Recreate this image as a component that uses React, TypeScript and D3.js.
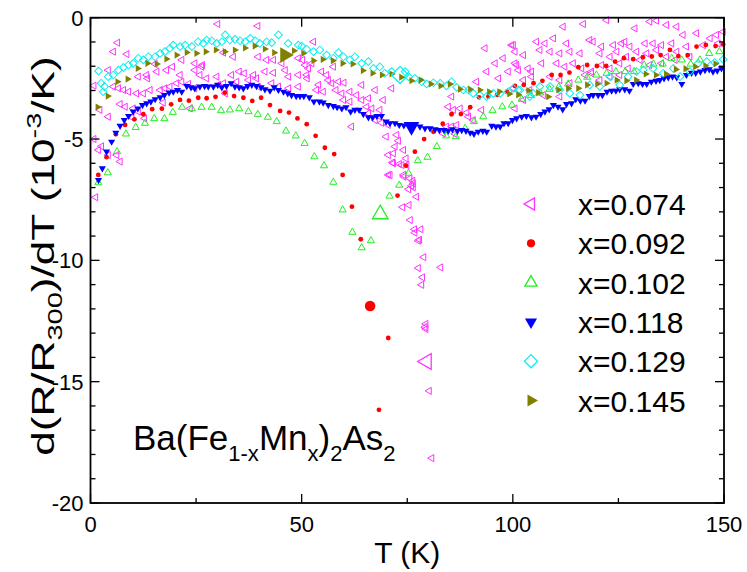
import React from 'react';
import * as d3 from 'd3';

const W = 747;
const H = 572;
const M = { left: 90.5, right: 724, top: 17.7, bottom: 503 };

const xMajorTicks = [0, 50, 100, 150];
const xMinorTicks = [25, 75, 125];
const yMajorTicks = [0, -5, -10, -15, -20];
const yMinorTicks = d3.range(-19, 0).filter((v) => v % 5 !== 0);
const legendLabels = ['x=0.074', 'x=0.092', 'x=0.102', 'x=0.118', 'x=0.129', 'x=0.145'];

// x = 0.074 (magenta, open left triangles)
const s074: [number, number][] = [
  [0.8, -2.8], [0.8, -5.0], [1.2, -7.4], [1.85, -5.45], [7.0, -5.93],
  [30.1, -0.26], [39.6, -0.34], [6.4, -1.03], [5.4, -1.4], [8.6, -1.5], [15.3, -1.91], [21.6, -1.74],
  [24.7, -1.88], [26.5, -1.95], [31.5, -1.44], [33.8, -1.61], [39.7, -1.61], [41.7, -1.74], [43.3, -1.74],
  [45.3, -1.88], [49.2, -1.67], [4.2, -2.16], [11.3, -2.43], [13.3, -2.36], [13.5, -2.5], [15.7, -2.22],
  [18.0, -2.16], [19.4, -2.02], [21.2, -2.36], [24.7, -2.16], [25.9, -2.36], [26.3, -2.02], [27.5, -2.5],
  [29.9, -2.43], [33.4, -2.36], [35.2, -2.22], [36.4, -2.29], [38.6, -2.36], [39.3, -2.5], [41.3, -2.22],
  [43.3, -2.27], [46.1, -2.16], [46.9, -2.43], [49.2, -2.36], [5.4, -2.84], [6.6, -2.91], [7.8, -2.98],
  [9.0, -3.05], [10.9, -3.12], [12.5, -3.12], [14.1, -2.98], [16.5, -2.98], [17.6, -2.91], [18.8, -2.84],
  [20.4, -2.7], [21.6, -2.64], [23.2, -2.73], [24.7, -2.91], [30.3, -2.77], [31.5, -2.7], [31.9, -3.12],
  [34.6, -2.64], [37.4, -2.57], [39.7, -2.84], [42.9, -2.7], [44.5, -2.84], [46.9, -2.91], [49.2, -2.84],
  [2.2, -3.8], [4.2, -4.08], [8.2, -3.67], [7.0, -3.56], [10.1, -3.74], [11.3, -3.87], [17.2, -3.5],
  [23.6, -3.74], [9.8, -4.11], [12.8, -4.15], [2.6, -5.3], [4.2, -5.66], [6.2, -5.66],
  [52.8, -0.99], [50.2, -1.74], [50.8, -1.95], [51.6, -2.09], [52.4, -1.88], [51.2, -2.36], [51.3, -2.5],
  [54.7, -2.22], [55.9, -2.36], [56.3, -2.57], [57.1, -2.7], [54.0, -2.77], [53.5, -2.98], [55.1, -3.05],
  [57.5, -2.02], [58.7, -2.64], [60.0, -2.68], [58.1, -2.98], [59.5, -3.12], [61.4, -3.05], [63.0, -3.19],
  [59.9, -3.39], [61.4, -3.46], [64.2, -3.39], [65.8, -3.32], [67.4, -2.98], [69.3, -3.39], [71.3, -2.91],
  [64.2, -2.77], [65.4, -3.67], [66.6, -3.74], [68.5, -3.8], [65.8, -3.94], [68.5, -4.08], [67.4, -4.22],
  [68.9, -4.33], [70.5, -4.42], [61.8, -4.49], [70.0, -4.9], [72.5, -4.83], [72.9, -5.07], [72.1, -5.31],
  [74.1, -5.45], [70.5, -5.66], [71.7, -6.0], [73.7, -6.07], [70.9, -6.48], [74.1, -6.48], [75.6, -6.62],
  [76.4, -6.83], [84.7, -3.67], [85.9, -3.8], [87.5, -3.74], [89.1, -3.91], [92.6, -3.8], [89.5, -4.08],
  [90.6, -4.22], [84.3, -4.49], [85.5, -4.49], [83.5, -4.77], [86.3, -4.79], [86.7, -4.42], [85.5, -3.25],
  [91.4, -2.64], [93.8, -2.22], [95.8, -1.88], [97.7, -1.67], [99.7, -1.13], [98.9, -2.22], [100.5, -1.88],
  [101.3, -2.16], [93.4, -1.26], [96.6, -2.5],
  [71.7, -5.59], [74.7, -5.8], [71.5, -5.97], [73.1, -6.03], [74.9, -6.07], [70.5, -6.48], [74.2, -6.55],
  [76.3, -6.72], [76.0, -6.93], [75.3, -7.07], [76.4, -6.99], [77.2, -7.38], [73.9, -7.81], [75.4, -7.72],
  [75.7, -8.34], [76.7, -8.72], [78.2, -8.72], [76.8, -8.86], [77.6, -9.19], [77.9, -9.15], [78.9, -9.87],
  [77.6, -10.32], [82.9, -10.29], [78.6, -10.7], [78.4, -11.01], [79.4, -12.62], [79.2, -12.75],
  [79.4, -12.83], [80.2, -15.38], [80.8, -18.15],
  [111.9, -0.37], [116.7, -0.26], [122.2, -0.1], [132.4, -0.16], [134.0, -0.12], [136.4, -0.3],
  [138.8, -0.37], [128.9, -0.44], [100.1, -1.13], [105.6, -0.99], [107.6, -1.06], [109.6, -0.85],
  [112.7, -1.06], [118.2, -0.92], [119.0, -0.99], [121.0, -1.19], [123.8, -1.13], [125.7, -1.06],
  [126.5, -0.99], [127.7, -1.19], [131.3, -1.06], [133.2, -1.06], [135.2, -1.13], [137.6, -1.06],
  [140.3, -0.71], [143.5, -0.64], [146.7, -0.85], [148.2, -0.71], [149.8, -0.58], [100.5, -1.4],
  [102.5, -1.54], [106.4, -1.33], [108.8, -1.4], [111.1, -1.47], [113.5, -1.4], [115.9, -1.47],
  [120.6, -1.47], [123.0, -1.61], [124.6, -1.4], [126.9, -1.61], [129.3, -1.4], [131.7, -1.47],
  [134.0, -1.33], [136.4, -1.61], [138.8, -1.4], [141.1, -1.19], [145.1, -1.13], [148.6, -1.06],
  [100.9, -1.95], [103.6, -2.09], [104.4, -2.22], [106.8, -1.88], [110.4, -1.88], [112.3, -2.02],
  [114.3, -1.88], [116.3, -2.09], [118.6, -2.22], [121.0, -1.95], [123.0, -2.09], [125.3, -1.88],
  [127.3, -2.09], [130.1, -1.74], [132.4, -1.95], [135.2, -1.88], [138.4, -1.74], [141.9, -1.61],
  [102.5, -2.57], [104.4, -2.43], [108.8, -2.43], [111.1, -2.57], [113.5, -2.7], [117.1, -2.36],
  [118.6, -2.29], [120.6, -2.57], [123.0, -2.43], [125.3, -2.36], [100.1, -2.91], [104.0, -2.98],
  [107.2, -3.19], [111.1, -3.25], [100.5, -3.74], [102.5, -3.39],
];

// x = 0.092 (red, filled circles)
const s092: [number, number][] = [
  [1.85, -6.48], [3.8, -5.75], [6.0, -4.8], [8.2, -4.42], [10.4, -4.19], [12.5, -3.98], [14.6, -3.77],
  [16.9, -3.75], [19.1, -3.57], [21.2, -3.39], [23.3, -3.42], [25.5, -3.3], [27.5, -3.32], [29.6, -3.26],
  [31.8, -3.09], [34.0, -3.23], [36.2, -3.3], [38.3, -3.43], [40.4, -3.3], [42.5, -3.6], [44.9, -3.84],
  [47.0, -3.91], [49.0, -4.15], [51.2, -4.39], [53.3, -4.87], [55.5, -5.36], [57.7, -5.62], [59.7, -6.48],
  [61.9, -7.79], [64.0, -9.13], [68.3, -16.16], [70.5, -13.2], [72.7, -7.33], [74.7, -6.1], [76.8, -5.52],
  [79.0, -5.0], [81.2, -4.7], [83.4, -4.37], [85.5, -3.98], [87.7, -3.97], [89.9, -3.69], [92.0, -3.28],
  [94.2, -3.25], [96.3, -3.18], [98.6, -3.05], [100.5, -2.81], [102.6, -2.77], [104.9, -2.7], [107.0, -2.6],
  [109.2, -2.36], [111.3, -2.36], [113.4, -2.26], [115.5, -2.04], [117.6, -1.95], [119.9, -1.99],
  [122.1, -1.99], [124.2, -1.81], [126.3, -1.67], [128.5, -1.71], [130.8, -1.63], [132.9, -1.6],
  [135.0, -1.54], [137.2, -1.33], [139.2, -1.58], [141.4, -1.54], [143.5, -1.19], [145.7, -1.12],
  [148.0, -1.17], [149.8, -1.1],
];

// x = 0.102 (green, open up triangles)
const s102: [number, number][] = [
  [1.85, -6.8], [4.1, -6.39], [6.3, -5.52], [8.4, -4.79], [10.7, -4.52], [12.9, -4.35], [15.1, -4.16],
  [17.5, -4.16], [19.5, -3.9], [21.7, -3.69], [24.0, -3.75], [26.3, -3.69], [28.7, -3.69], [30.9, -3.83],
  [33.0, -3.8], [35.2, -3.75], [37.4, -3.87], [39.6, -3.98], [42.0, -4.1], [44.1, -4.28], [46.3, -4.67],
  [48.6, -4.87], [50.7, -5.18], [53.0, -5.73], [55.3, -6.1], [57.5, -6.78], [59.7, -7.92], [62.0, -8.84],
  [64.2, -9.48], [66.4, -9.19], [70.8, -7.35], [73.1, -6.9], [75.3, -6.41], [77.5, -5.89], [79.8, -5.75],
  [82.0, -5.31], [84.2, -4.87], [86.5, -4.9], [88.7, -4.56], [90.8, -4.28], [93.0, -4.08], [95.2, -3.83],
  [97.5, -3.67], [99.8, -3.6], [102.1, -3.36], [104.3, -3.2], [106.5, -3.1], [108.7, -2.95], [110.9, -2.85],
  [113.1, -2.73], [115.5, -2.57], [117.6, -2.45], [119.8, -2.36], [122.2, -2.29], [124.4, -2.22],
  [126.6, -2.22], [128.7, -2.22], [131.1, -1.95], [133.3, -1.91], [135.5, -1.91], [137.6, -1.67],
  [140.0, -1.74], [142.1, -1.91], [144.3, -1.74], [146.5, -1.47], [148.9, -1.4],
];

// x = 0.118 (blue, filled down triangles)
const s118: [number, number][] = [
  [1.9, -6.69], [2.8, -6.21], [3.8, -5.52], [5.0, -5.11], [6.0, -4.74], [7.0, -4.46], [8.0, -4.22],
  [9.0, -4.05], [10.1, -3.87], [11.2, -3.74], [12.3, -3.6], [13.3, -3.53], [14.3, -3.46], [15.3, -3.36],
  [16.5, -3.28], [17.5, -3.19], [18.6, -3.09], [19.6, -3.05], [20.6, -2.98], [21.6, -3.05], [22.8, -2.82],
  [23.8, -2.87], [24.7, -2.91], [25.9, -2.84], [27.0, -2.82], [27.9, -2.84], [29.1, -2.84], [30.1, -2.77],
  [31.1, -2.87], [32.2, -2.82], [33.3, -2.7], [34.2, -2.84], [35.2, -2.87], [36.2, -2.91], [37.2, -2.82],
  [38.2, -2.77], [39.3, -2.82], [40.4, -2.87], [41.3, -2.95], [42.5, -3.01], [43.5, -2.87], [44.5, -2.98],
  [45.7, -3.05], [46.7, -3.12], [47.6, -3.19], [48.7, -3.23], [49.6, -3.23], [50.5, -3.23], [51.8, -3.28],
  [52.9, -3.46], [54.2, -3.46], [55.1, -3.5], [56.3, -3.6], [57.5, -3.64], [58.4, -3.69], [59.5, -3.74],
  [60.5, -3.69], [61.6, -3.87], [62.6, -3.8], [63.6, -3.8], [64.6, -3.97], [65.8, -4.11], [66.8, -4.11],
  [67.8, -4.05], [68.9, -4.05], [70.0, -4.28], [70.9, -4.35], [72.1, -4.35], [73.1, -4.42], [74.2, -4.44],
  [78.0, -4.49], [79.2, -4.56], [80.4, -4.56], [81.6, -4.6], [82.6, -4.63], [83.7, -4.63], [84.7, -4.66],
  [85.7, -4.6], [86.9, -4.66], [87.9, -4.63], [88.9, -4.66], [89.9, -4.74], [90.8, -4.79], [91.8, -4.7],
  [92.9, -4.66], [93.8, -4.7], [95.0, -4.46], [96.0, -4.49], [97.0, -4.49], [97.9, -4.35], [98.9, -4.35],
  [99.9, -4.22], [100.9, -4.15], [102.1, -4.08], [103.2, -4.05], [104.4, -4.11], [105.5, -4.08],
  [106.6, -3.97], [107.6, -3.87], [108.6, -3.78], [109.6, -3.6], [110.7, -3.67], [111.8, -3.78],
  [112.7, -3.56], [113.9, -3.53], [114.9, -3.36], [116.0, -3.42], [117.1, -3.42], [118.1, -3.23],
  [119.0, -3.19], [120.2, -3.19], [121.2, -3.19], [122.3, -3.05], [123.4, -3.01], [124.4, -3.01],
  [125.3, -2.95], [126.5, -2.95], [127.6, -3.01], [128.5, -2.73], [129.7, -2.7], [130.7, -2.73],
  [131.7, -2.73], [132.8, -2.64], [133.9, -2.6], [134.8, -2.57], [135.8, -2.5], [136.8, -2.46],
  [137.8, -2.43], [138.8, -2.46], [140.0, -2.73], [141.1, -2.36], [142.3, -2.27], [143.3, -2.27],
  [144.4, -2.22], [145.5, -2.16], [146.5, -2.13], [147.4, -2.22], [148.4, -2.18], [149.4, -2.09],
];

// x = 0.129 (cyan, open diamonds)
const s129: [number, number][] = [
  [1.9, -2.2], [2.5, -2.7], [3.0, -3.05], [3.3, -2.84], [4.2, -2.43], [5.4, -2.36], [6.6, -2.16],
  [7.8, -2.05], [9.0, -1.95], [10.1, -1.88], [11.3, -1.67], [12.5, -1.74], [13.7, -1.61], [15.3, -1.61],
  [16.5, -1.47], [17.6, -1.4], [18.8, -1.26], [19.6, -1.13], [21.2, -1.19], [22.4, -1.13], [24.0, -1.19],
  [25.5, -0.99], [26.7, -1.06], [27.5, -0.92], [28.7, -0.95], [29.9, -1.06], [31.1, -0.99], [31.9, -0.71],
  [33.0, -0.92], [34.2, -0.89], [35.4, -0.95], [36.6, -0.99], [37.8, -0.85], [39.0, -0.95], [40.1, -1.06],
  [41.7, -0.99], [42.9, -1.03], [44.5, -0.71], [46.8, -1.06], [49.2, -1.13], [50.0, -1.17], [51.2, -1.3],
  [52.8, -1.4], [54.3, -1.33], [55.9, -1.54], [57.5, -1.67], [58.7, -1.44], [59.9, -1.61], [61.4, -1.74],
  [62.6, -1.61], [64.2, -1.88], [65.8, -1.81], [67.0, -2.09], [68.5, -2.02], [69.7, -2.29], [71.3, -2.22],
  [74.5, -2.22], [75.3, -2.43], [76.8, -2.5], [78.4, -2.64], [79.6, -2.73], [81.2, -2.68], [82.8, -2.7],
  [84.3, -2.81], [85.5, -2.64], [86.7, -2.87], [88.3, -2.98], [89.5, -2.98], [90.6, -3.12], [92.2, -3.19],
  [93.8, -3.25], [95.4, -3.12], [97.0, -3.12], [98.9, -3.05], [100.1, -2.91], [101.3, -2.98],
  [101.7, -2.98], [104.0, -3.25], [104.8, -3.12], [106.4, -2.84], [108.8, -2.84], [111.1, -2.98],
  [113.5, -3.12], [115.9, -3.19], [118.2, -2.77], [120.6, -2.84], [123.0, -2.43], [125.3, -2.77],
  [127.3, -2.43], [129.3, -2.22], [130.9, -2.16], [133.2, -2.09], [135.6, -2.29], [138.0, -2.09],
  [139.6, -2.43], [141.9, -2.22], [143.9, -1.88], [145.9, -1.81], [147.8, -1.85], [149.8, -1.72],
];

// x = 0.145 (olive, filled right triangles)
const s145: [number, number][] = [
  [1.7, -3.68], [4.1, -3.23], [6.4, -2.64], [8.8, -2.53], [11.2, -2.09], [13.5, -1.88], [15.7, -1.91],
  [18.0, -1.7], [20.4, -1.54], [22.8, -1.43], [25.1, -1.47], [27.3, -1.4], [29.7, -1.33], [31.8, -1.4],
  [34.2, -1.33], [36.6, -1.25], [38.9, -1.17], [41.3, -1.29], [43.5, -1.44], [48.2, -1.36], [50.4, -1.47],
  [52.8, -1.77], [55.0, -1.72], [57.4, -1.77], [59.7, -1.88], [62.1, -1.91], [64.5, -2.18], [66.8, -2.29],
  [69.0, -2.36], [71.3, -2.32], [73.6, -2.45], [76.0, -2.6], [78.2, -2.57], [80.6, -2.73], [82.9, -2.81],
  [85.1, -2.73], [87.5, -2.95], [89.9, -2.95], [92.2, -2.98], [94.4, -3.05], [96.8, -3.05], [99.2, -3.14],
  [101.3, -3.18], [103.7, -3.0], [106.0, -3.09], [108.4, -3.26], [110.8, -2.98], [113.1, -2.91],
  [115.5, -2.91], [117.6, -2.77], [120.0, -2.73], [122.2, -2.7], [124.6, -2.57], [126.9, -2.6],
  [129.2, -2.57], [131.5, -2.32], [133.9, -2.36], [136.3, -2.32], [138.6, -2.13], [140.9, -2.1],
  [143.2, -2.02], [145.6, -1.98], [148.0, -1.9],
];

// one enlarged marker per series, in legend order
const bigMarkers: [number, number][] = [
  [79.6, -14.17], [66.2, -11.88], [68.6, -8.1], [76.0, -4.49], [73.3, -2.36], [46.0, -1.54],
];

type Kind = 'left' | 'circle' | 'up' | 'down' | 'diamond' | 'right';
const styles: { kind: Kind; color: string; filled: boolean }[] = [
  { kind: 'left', color: '#ff33ff', filled: false },
  { kind: 'circle', color: '#ff0000', filled: true },
  { kind: 'up', color: '#22ee22', filled: false },
  { kind: 'down', color: '#0000ff', filled: true },
  { kind: 'diamond', color: '#11eeee', filled: false },
  { kind: 'right', color: '#808000', filled: true },
];
const seriesData = [s074, s092, s102, s118, s129, s145];

const FONT = 'Liberation Sans, Arial, Helvetica, sans-serif';

function Marker({ kind, color, filled, cx, cy, scale }: { kind: Kind; color: string; filled: boolean; cx: number; cy: number; scale: number }) {
  const fill = filled ? color : 'none';
  const stroke = filled ? 'none' : color;
  const sw = scale > 1.5 ? 1.3 : 1;
  if (kind === 'circle') {
    return <circle cx={cx} cy={cy} r={2.4 * scale} fill={color} />;
  }
  if (kind === 'diamond') {
    const d = d3.symbol().type(d3.symbolSquare).size(30 * scale * scale)() as string;
    return <path d={d} transform={`translate(${cx},${cy}) rotate(45)`} fill={fill} stroke={stroke} strokeWidth={sw} />;
  }
  const rot = kind === 'left' ? -90 : kind === 'right' ? 90 : kind === 'down' ? 180 : 0;
  const d = d3.symbol().type(d3.symbolTriangle).size(22 * scale * scale)() as string;
  return <path d={d} transform={`translate(${cx},${cy}) rotate(${rot})`} fill={fill} stroke={stroke} strokeWidth={sw} />;
}

export default function App() {
  const x = d3.scaleLinear().domain([0, 150]).range([M.left, M.right]);
  const y = d3.scaleLinear().domain([-20, 0]).range([M.bottom, M.top]);
  const legendX = 531;
  const legendY0 = 204;
  const legendDy = 39.3;

  return (
    <svg width={W} height={H} style={{ position: 'absolute', left: 0, top: 0, background: '#fff' }} fontFamily={FONT}>
      <rect x={0} y={0} width={W} height={H} fill="#fff" />
      {seriesData.map((data, si) => (
        <g key={si}>
          {data.map(([t, v], i) => (
            <Marker key={i} {...styles[si]} cx={x(t)} cy={y(v)} scale={1} />
          ))}
        </g>
      ))}
      {bigMarkers.map(([t, v], si) => (
        <Marker key={'b' + si} {...styles[si]} cx={x(t)} cy={y(v)} scale={2.2} />
      ))}

      {/* frame */}
      <rect x={M.left} y={M.top} width={M.right - M.left} height={M.bottom - M.top} fill="none" stroke="#000" strokeWidth={1.8} />
      {xMajorTicks.map((t) => (
        <g key={'xM' + t}>
          <line x1={x(t)} x2={x(t)} y1={M.bottom} y2={M.bottom - 9} stroke="#000" strokeWidth={1.3} />
          <line x1={x(t)} x2={x(t)} y1={M.top} y2={M.top + 9} stroke="#000" strokeWidth={1.3} />
          <text x={x(t)} y={532} textAnchor="middle" fontSize={22}>{t}</text>
        </g>
      ))}
      {xMinorTicks.map((t) => (
        <g key={'xm' + t}>
          <line x1={x(t)} x2={x(t)} y1={M.bottom} y2={M.bottom - 5} stroke="#000" strokeWidth={1.3} />
          <line x1={x(t)} x2={x(t)} y1={M.top} y2={M.top + 5} stroke="#000" strokeWidth={1.3} />
        </g>
      ))}
      {yMajorTicks.map((v) => (
        <g key={'yM' + v}>
          <line x1={M.left} x2={M.left + 9} y1={y(v)} y2={y(v)} stroke="#000" strokeWidth={1.3} />
          <line x1={M.right} x2={M.right - 9} y1={y(v)} y2={y(v)} stroke="#000" strokeWidth={1.3} />
          <text x={M.left - 7} y={y(v) + 8} textAnchor="end" fontSize={22}>{v}</text>
        </g>
      ))}
      {yMinorTicks.map((v) => (
        <g key={'ym' + v}>
          <line x1={M.left} x2={M.left + 5} y1={y(v)} y2={y(v)} stroke="#000" strokeWidth={1.3} />
          <line x1={M.right} x2={M.right - 5} y1={y(v)} y2={y(v)} stroke="#000" strokeWidth={1.3} />
        </g>
      ))}

      {/* axis titles */}
      <text x={(M.left + M.right) / 2} y={563} textAnchor="middle" fontSize={30}>T (K)</text>
      <text transform="translate(54,256) rotate(-90) scale(1.38,1)" textAnchor="middle" fontSize={32}>
        d(R/R<tspan dy={8} fontSize={21}>300</tspan>
        <tspan dy={-8}>)/dT (10</tspan>
        <tspan dy={-13} fontSize={21}>-3</tspan>
        <tspan dy={13}>/K)</tspan>
      </text>

      {/* compound label */}
      <text x={133} y={450} fontSize={35}>
        Ba(Fe<tspan dy={11} fontSize={22}>1-x</tspan>
        <tspan dy={-11}>Mn</tspan>
        <tspan dy={11} fontSize={22}>x</tspan>
        <tspan dy={-11}>)</tspan>
        <tspan dy={11} fontSize={22}>2</tspan>
        <tspan dy={-11}>As</tspan>
        <tspan dy={11} fontSize={22}>2</tspan>
      </text>

      {/* legend */}
      {legendLabels.map((lab, i) => (
        <g key={'lg' + i}>
          <Marker {...styles[i]} cx={legendX} cy={legendY0 + i * legendDy} scale={1.7} />
          <text x={578} y={legendY0 + i * legendDy + 11} fontSize={30}>{lab}</text>
        </g>
      ))}
    </svg>
  );
}
